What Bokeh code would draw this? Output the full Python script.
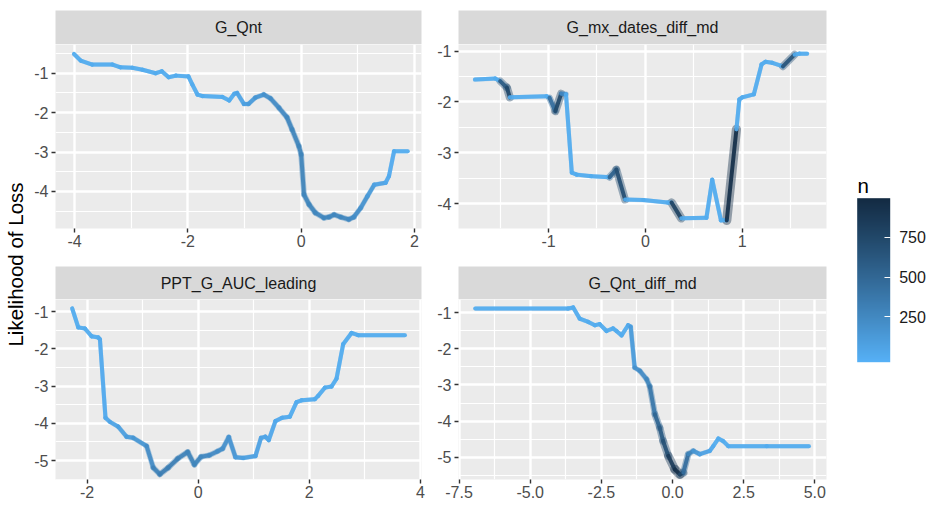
import numpy as np
from bokeh.plotting import figure
from bokeh.models import (ColumnDataSource, FixedTicker, LinearColorMapper, ColorBar,
                          Range1d, Label, LinearInterpolator)
from bokeh.transform import transform
from bokeh.layouts import row, column
from bokeh.embed import file_html
from bokeh.resources import INLINE
from bokeh.core.properties import value

FONT = "Liberation Sans"

# ---------------- data ----------------
panel_names = ["G_Qnt", "G_mx_dates_diff_md", "PPT_G_AUC_leading", "G_Qnt_diff_md"]
y_title = "Likelihood of Loss"
legend_title = "n"

qnt_x = [-4.01, -3.89, -3.69, -3.33, -3.19, -2.98, -2.80, -2.57, -2.46, -2.34, -2.21, -1.99,
         -1.92, -1.83, -1.74, -1.39, -1.27, -1.18, -1.13, -1.01, -0.93, -0.81, -0.66, -0.54,
         -0.39, -0.25, -0.16, -0.04, 0.00, 0.05, 0.14, 0.25, 0.40, 0.49, 0.58, 0.70, 0.84,
         0.93, 1.05, 1.17, 1.29, 1.49, 1.55, 1.64, 1.88]
qnt_y = [-0.51, -0.68, -0.78, -0.78, -0.85, -0.86, -0.91, -1.00, -0.95, -1.10, -1.06, -1.08,
         -1.29, -1.54, -1.58, -1.60, -1.69, -1.52, -1.50, -1.78, -1.78, -1.62, -1.54, -1.64,
         -1.88, -2.12, -2.43, -2.85, -3.06, -4.08, -4.33, -4.54, -4.67, -4.65, -4.59, -4.65,
         -4.71, -4.65, -4.42, -4.12, -3.83, -3.78, -3.61, -2.98, -2.98]
qnt_n = [10, 10, 10, 10, 10, 10, 10, 10, 10, 10, 10, 10, 10, 10, 10, 10, 10, 30, 60, 90,
         120, 160, 200, 230, 250, 270, 280, 290, 290, 280, 280, 270, 270, 270, 270, 270, 250,
         220, 180, 130, 70, 30, 15, 10, 10]

mx_x = [-1.76, -1.55, -1.50, -1.43, -1.40, -1.02, -0.99, -0.93, -0.87, -0.82, -0.76, -0.71,
        -0.56, -0.37, -0.30, -0.21, -0.02, 0.23, 0.27, 0.37, 0.63, 0.69, 0.78, 0.84, 0.94,
        0.97, 1.00, 1.12, 1.20, 1.24, 1.31, 1.42, 1.54, 1.59, 1.67]
mx_y = [-1.56, -1.54, -1.59, -1.72, -1.91, -1.89, -1.92, -2.18, -1.84, -1.85, -3.39, -3.43,
        -3.46, -3.48, -3.33, -3.92, -3.93, -3.98, -3.98, -4.29, -4.28, -3.53, -4.33, -4.33,
        -2.54, -1.95, -1.91, -1.85, -1.26, -1.21, -1.23, -1.30, -1.07, -1.05, -1.05]
mx_n = [10, 10, 600, 750, 10, 10, 450, 750, 250, 10, 10, 10, 10, 550, 700, 10, 10, 10,
        800, 10, 10, 10, 10, 950, 10, 10, 10, 10, 10, 10, 10, 650, 10, 10, 10]

auc_x = [-2.27, -2.16, -2.04, -1.92, -1.80, -1.77, -1.67, -1.59, -1.44, -1.29, -1.17, -0.93,
         -0.81, -0.69, -0.54, -0.37, -0.19, -0.07, 0.05, 0.20, 0.35, 0.44, 0.55, 0.67, 0.81,
         1.03, 1.13, 1.21, 1.27, 1.39, 1.51, 1.65, 1.77, 1.86, 2.10, 2.16, 2.28, 2.40, 2.49,
         2.61, 2.76, 2.88, 3.72]
auc_y = [-0.91, -1.42, -1.45, -1.66, -1.69, -1.74, -3.85, -3.96, -4.09, -4.36, -4.39, -4.61,
         -5.19, -5.37, -5.19, -4.95, -4.77, -5.11, -4.90, -4.86, -4.75, -4.68, -4.37, -4.91,
         -4.93, -4.88, -4.39, -4.36, -4.45, -3.94, -3.85, -3.82, -3.43, -3.38, -3.35, -3.26,
         -3.04, -3.01, -2.80, -1.87, -1.57, -1.63, -1.63]
auc_n = [10, 10, 10, 10, 10, 20, 40, 60, 90, 120, 160, 230, 300, 330, 320, 300, 290, 280,
         260, 240, 220, 200, 170, 120, 90, 70, 60, 50, 40, 30, 20, 10, 10, 10, 10, 10, 10,
         10, 10, 10, 10, 10, 10]

qd_x = [-6.93, -3.67, -3.49, -3.26, -2.96, -2.73, -2.56, -2.32, -2.09, -1.97, -1.79, -1.56,
        -1.47, -1.33, -1.15, -0.91, -0.80, -0.62, -0.45, -0.33, -0.15, 0.08, 0.26, 0.38,
        0.55, 0.73, 0.96, 1.31, 1.43, 1.61, 1.78, 1.96, 3.31, 4.79]
qd_y = [-0.89, -0.89, -0.86, -1.17, -1.26, -1.35, -1.32, -1.51, -1.44, -1.51, -1.63, -1.35,
        -1.39, -2.52, -2.61, -2.84, -3.04, -3.81, -4.18, -4.55, -4.96, -5.33, -5.47, -5.42,
        -4.91, -4.82, -4.91, -4.82, -4.69, -4.48, -4.55, -4.69, -4.69, -4.69]
qd_n = [10, 10, 10, 10, 10, 10, 10, 10, 10, 10, 10, 40, 120, 200, 230, 280, 380, 520, 600,
        680, 850, 950, 750, 450, 280, 150, 70, 30, 10, 10, 10, 10, 10, 10]

# tick values / labels
p1_xticks = [-4, -2, 0, 2];            p1_xlabels = ["-4", "-2", "0", "2"]
p2_xticks = [-1, 0, 1];                p2_xlabels = ["-1", "0", "1"]
p3_xticks = [-2, 0, 2, 4];             p3_xlabels = ["-2", "0", "2", "4"]
p4_xticks = [-7.5, -5.0, -2.5, 0.0, 2.5, 5.0]
p4_xlabels = ["-7.5", "-5.0", "-2.5", "0.0", "2.5", "5.0"]
p12_yticks = [-1, -2, -3, -4];         p12_ylabels = ["-1", "-2", "-3", "-4"]
p34_yticks = [-1, -2, -3, -4, -5];     p34_ylabels = ["-1", "-2", "-3", "-4", "-5"]
cbar_ticks = [250, 500, 750]

# ---------------- colour scale (CIELAB ramp like ggplot) ----------------
N_LOW, N_HIGH = -35, 995


def _hex2rgb(h):
    return np.array([int(h[i:i + 2], 16) for i in (1, 3, 5)]) / 255.0


_M = np.array([[0.4124564, 0.3575761, 0.1804375],
               [0.2126729, 0.7151522, 0.0721750],
               [0.0193339, 0.1191920, 0.9503041]])
_WHITE = np.array([0.95047, 1.0, 1.08883])


def _to_lab(rgb):
    lin = np.where(rgb <= 0.04045, rgb / 12.92, ((rgb + 0.055) / 1.055) ** 2.4)
    xyz = _M @ lin / _WHITE
    d = 6 / 29
    f = np.where(xyz > d ** 3, np.cbrt(xyz), xyz / (3 * d * d) + 4 / 29)
    return np.array([116 * f[1] - 16, 500 * (f[0] - f[1]), 200 * (f[1] - f[2])])


def _from_lab(lab):
    L, a, b = lab
    fy = (L + 16) / 116
    fx, fz = fy + a / 500, fy - b / 200
    d = 6 / 29
    f = np.array([fx, fy, fz])
    xyz = np.where(f > d, f ** 3, 3 * d * d * (f - 4 / 29)) * _WHITE
    lin = np.linalg.solve(_M, xyz)
    lin = np.clip(lin, 0, 1)
    rgb = np.where(lin <= 0.0031308, 12.92 * lin, 1.055 * lin ** (1 / 2.4) - 0.055)
    r, g, bb = (np.clip(rgb, 0, 1) * 255).round().astype(int)
    return "#%02x%02x%02x" % (r, g, bb)


_lo, _hi = _to_lab(_hex2rgb("#56B1F7")), _to_lab(_hex2rgb("#132B43"))
palette = [_from_lab(_lo + (_hi - _lo) * t) for t in np.linspace(0, 1, 256)]
mapper = LinearColorMapper(palette=palette, low=N_LOW, high=N_HIGH)
halo_width = LinearInterpolator(x=[N_LOW, N_HIGH], y=[4, 9.5])

# ---------------- helpers ----------------


def minor_of(ticks):
    step = ticks[1] - ticks[0]
    ext = [ticks[0] - step] + list(ticks)
    return [t + step / 2 for t in ext]


def make_panel(xs, ys, ns, xr, yr, xt, xl, yt, yl, width, height, bl, br, bb):
    p = figure(width=width, height=height, x_range=Range1d(*xr), y_range=Range1d(*yr),
               output_backend="svg", toolbar_location=None,
               min_border_left=bl, min_border_right=br, min_border_top=0, min_border_bottom=bb)
    p.background_fill_color = "#EBEBEB"
    p.border_fill_color = "white"
    p.outline_line_color = None
    xtk = FixedTicker(ticks=xt, minor_ticks=minor_of(xt))
    ytk = FixedTicker(ticks=yt, minor_ticks=minor_of(yt))
    p.xaxis.ticker = xtk
    p.yaxis.ticker = ytk
    p.xgrid.ticker = xtk
    p.ygrid.ticker = ytk
    p.xaxis.major_label_overrides = {t: l for t, l in zip(xt, xl)}
    p.yaxis.major_label_overrides = {t: l for t, l in zip(yt, yl)}
    for g in (p.xgrid, p.ygrid):
        g.grid_line_color = "white"
        g.grid_line_width = 2.4
        g.minor_grid_line_color = "white"
        g.minor_grid_line_width = 1.2
    for ax in (p.xaxis, p.yaxis):
        ax.axis_line_color = None
        ax.major_tick_line_color = "#333333"
        ax.major_tick_line_width = 1.4
        ax.major_tick_out = 4
        ax.major_tick_in = 0
        ax.minor_tick_line_color = None
        ax.major_label_text_font = FONT
        ax.major_label_text_font_size = "16px"
        ax.major_label_text_color = "#4D4D4D"
    p.xaxis.major_label_standoff = 2
    p.yaxis.major_label_standoff = 3

    src = ColumnDataSource(dict(x0=xs[:-1], y0=ys[:-1], x1=xs[1:], y1=ys[1:], n=ns[:-1]))
    p.segment("x0", "y0", "x1", "y1", source=src, line_color=transform("n", mapper),
              line_alpha=0.42, line_width=transform("n", halo_width), line_cap="round")
    p.segment("x0", "y0", "x1", "y1", source=src, line_color=transform("n", mapper),
              line_alpha=0.92, line_width=4, line_cap="round", line_join="round")
    return p


def make_strip(name, width, height, bl, br, bt):
    s = figure(width=width, height=height, x_range=Range1d(0, 1), y_range=Range1d(0, 1),
               output_backend="svg", toolbar_location=None,
               x_axis_location=None, y_axis_location=None,
               min_border_left=bl, min_border_right=br, min_border_top=bt, min_border_bottom=0)
    s.background_fill_color = "#D9D9D9"
    s.border_fill_color = "white"
    s.outline_line_color = None
    s.grid.visible = False
    s.text(x=[0.5], y=[0.5], text=[name], text_align="center", text_baseline="middle",
           text_font=value(FONT), text_font_size="16px", text_color="#1A1A1A")
    return s


# ---------------- panels ----------------
W1, W2 = 398, 402
L1, R1, L2, R2 = 24, 8, 29, 5

s1 = make_strip(panel_names[0], W1, 44, L1, R1, 10)
s2 = make_strip(panel_names[1], W2, 44, L2, R2, 10)
s3 = make_strip(panel_names[2], W1, 33, L1, R1, 0)
s4 = make_strip(panel_names[3], W2, 33, L2, R2, 0)

p1 = make_panel(qnt_x, qnt_y, qnt_n, (-4.336, 2.124), (-4.94, -0.27),
                p1_xticks, p1_xlabels, p12_yticks, p12_ylabels, W1, 222, L1, R1, 38)
p2 = make_panel(mx_x, mx_y, mx_n, (-1.93, 1.87), (-4.49, -0.87),
                p2_xticks, p2_xlabels, p12_yticks, p12_ylabels, W2, 222, L2, R2, 38)
p3 = make_panel(auc_x, auc_y, auc_n, (-2.57, 4.02), (-5.51, -0.67),
                p3_xticks, p3_xlabels, p34_yticks, p34_ylabels, W1, 208, L1, R1, 28)
p4 = make_panel(qd_x, qd_y, qd_n, (-7.52, 5.41), (-5.61, -0.64),
                p4_xticks, p4_xlabels, p34_yticks, p34_ylabels, W2, 208, L2, R2, 28)

# ---------------- y title (as an axis label) ----------------
H = 507
ylab = figure(width=31, height=H, x_range=Range1d(0, 1), y_range=Range1d(0, 1),
              output_backend="svg", toolbar_location=None, x_axis_location=None,
              min_border_left=30, min_border_right=0, min_border_top=21, min_border_bottom=0)
ylab.grid.visible = False
ylab.outline_line_color = None
ylab.background_fill_color = "white"
ylab.border_fill_color = "white"
ylab.yaxis.ticker = FixedTicker(ticks=[])
ylab.yaxis.axis_line_color = None
ylab.yaxis.major_tick_line_color = None
ylab.yaxis.minor_tick_line_color = None
ylab.yaxis.major_label_text_font_size = "0px"
ylab.yaxis.axis_label = y_title
ylab.yaxis.axis_label_text_font = FONT
ylab.yaxis.axis_label_text_font_size = "20.5px"
ylab.yaxis.axis_label_text_font_style = "normal"
ylab.yaxis.axis_label_text_color = "black"
ylab.yaxis.axis_label_standoff = 4

# ---------------- legend ----------------
leg = figure(width=103, height=H, x_range=Range1d(0, 103), y_range=Range1d(0, H),
             output_backend="svg", toolbar_location=None,
             x_axis_location=None, y_axis_location=None,
             min_border_left=0, min_border_right=0, min_border_top=0, min_border_bottom=0)
leg.grid.visible = False
leg.outline_line_color = None
leg.background_fill_color = "white"
leg.border_fill_color = "white"
cb = ColorBar(color_mapper=mapper, location=(25.7, H - 361.7), width=33, height=164,
              padding=0, margin=0, title=None,
              ticker=FixedTicker(ticks=cbar_ticks),
              major_label_text_font=FONT, major_label_text_font_size="16px",
              major_label_text_color="#1A1A1A", label_standoff=9,
              major_tick_line_color="white", major_tick_in=6, major_tick_out=0,
              major_tick_line_width=1.2, minor_tick_line_color=None,
              bar_line_color=None, border_line_color=None, background_fill_color=None)
leg.add_layout(cb)
leg.add_layout(Label(x=26, y=H - 185, x_units="screen", y_units="screen", text=legend_title,
                     text_align="left", text_baseline="alphabetic", text_font=FONT,
                     text_font_size="20.5px", text_color="black"))

layout = row(ylab,
             column(row(s1, s2), row(p1, p2), row(s3, s4), row(p3, p4)),
             leg)

open("out.html", "w").write(file_html(layout, INLINE))
